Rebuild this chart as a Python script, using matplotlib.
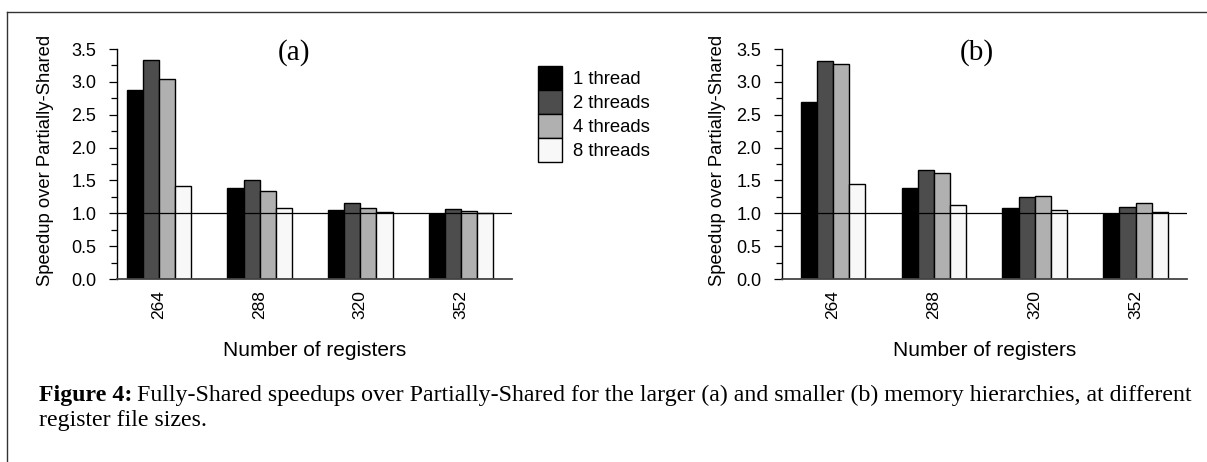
import matplotlib
matplotlib.use("Agg")
import matplotlib.pyplot as plt
from matplotlib.lines import Line2D
from matplotlib.ticker import MultipleLocator
import numpy as np

plt.rcParams['font.family'] = ['Liberation Sans', 'DejaVu Sans']

registers = ["264", "288", "320", "352"]
series = ["1 thread", "2 threads", "4 threads", "8 threads"]
colors = ["#000000", "#4d4d4d", "#b0b0b0", "#f8f8f8"]

speedup_a = {
    "1 thread":  [2.87, 1.39, 1.055, 0.995],
    "2 threads": [3.33, 1.51, 1.16, 1.06],
    "4 threads": [3.05, 1.34, 1.085, 1.035],
    "8 threads": [1.415, 1.08, 1.015, 1.0],
}
speedup_b = {
    "1 thread":  [2.69, 1.39, 1.085, 0.995],
    "2 threads": [3.32, 1.655, 1.245, 1.09],
    "4 threads": [3.27, 1.61, 1.26, 1.15],
    "8 threads": [1.44, 1.13, 1.05, 1.025],
}

W, H = 1207, 462
fig = plt.figure(figsize=(W / 100, H / 100), dpi=100)


def px_axes(left, right, top, bottom):
    return fig.add_axes([left / W, 1 - bottom / H, (right - left) / W, (bottom - top) / H])


bar_w = 0.16
x = np.arange(len(registers))


def draw_panel(ax, data, xlim, title, title_x, ylabel_x):
    handles = []
    for j, s in enumerate(series):
        h = ax.bar(x + (j - 1.5) * bar_w, data[s], width=bar_w, color=colors[j],
                   edgecolor="black", linewidth=1.0, label=s, zorder=2)
        handles.append(h)
    ax.axhline(1.0, color="black", linewidth=0.9, zorder=3)
    ax.set_xlim(*xlim)
    ax.set_ylim(0, 3.5)
    ax.yaxis.set_major_locator(MultipleLocator(0.5))
    ax.yaxis.set_minor_locator(MultipleLocator(0.25))
    ax.set_yticklabels([f"{v:.1f}" for v in ax.get_yticks()])
    ax.set_xticks(x)
    ax.set_xticklabels(registers, rotation=90, fontsize=12.5)
    ax.tick_params(axis="x", length=0, pad=8)
    ax.tick_params(axis="y", which="major", length=6, width=0.9, pad=9, labelsize=13)
    ax.tick_params(axis="y", which="minor", length=4, width=0.9)
    for sp in ("top", "right"):
        ax.spines[sp].set_visible(False)
    ax.spines["left"].set_linewidth(1.0)
    ax.spines["bottom"].set_linewidth(1.3)
    ax.spines["bottom"].set_color("#444444")
    ax.set_xlabel("Number of registers", fontsize=15, labelpad=16)
    ax.text(title_x, 0.985, title, transform=ax.transAxes, ha="center", va="center",
            fontsize=21, family="Liberation Serif")
    fig.text(ylabel_x / W, 1 - 160 / H, "Speedup over Partially-Shared", rotation=90,
             ha="center", va="center", fontsize=13.3)
    return handles


ax_a = px_axes(117, 512, 49, 279)
handles = draw_panel(ax_a, speedup_a, (-0.417, 3.507), "(a)", 0.448, 45)
ax_b = px_axes(782, 1187, 49, 279)
draw_panel(ax_b, speedup_b, (-0.506, 3.51), "(b)", 0.481, 718)

fig.legend(handles=handles, labels=series, loc="upper left",
           bbox_to_anchor=(538 / W, 1 - 66 / H), frameon=False, fontsize=13.3,
           handlelength=24 / 18.5, handleheight=1.62, labelspacing=0.0,
           handletextpad=0.6, borderpad=0.0, borderaxespad=0.0)

# frame
fig.add_artist(Line2D([7 / W, 1.0], [1 - 12 / H, 1 - 12 / H], transform=fig.transFigure,
                      color="#333333", linewidth=1.0))
fig.add_artist(Line2D([7 / W, 7 / W], [1 - 12 / H, 0.0], transform=fig.transFigure,
                      color="#333333", linewidth=1.0))

# caption
cap_fs = 17.2
t1 = fig.text(39 / W, 1 - 401 / H, "Figure 4:", fontsize=cap_fs, fontweight="bold",
              family="Liberation Serif", ha="left", va="baseline")
fig.canvas.draw()
bb = t1.get_window_extent(renderer=fig.canvas.get_renderer())
fig.text(bb.x1 / W + 5 / W, 1 - 401 / H,
         "Fully-Shared speedups over Partially-Shared for the larger (a) and smaller (b) memory hierarchies, at different",
         fontsize=cap_fs, family="Liberation Serif", ha="left", va="baseline")
fig.text(39 / W, 1 - 426 / H, "register file sizes.", fontsize=cap_fs,
         family="Liberation Serif", ha="left", va="baseline")

fig.savefig("out.png", dpi=100)
